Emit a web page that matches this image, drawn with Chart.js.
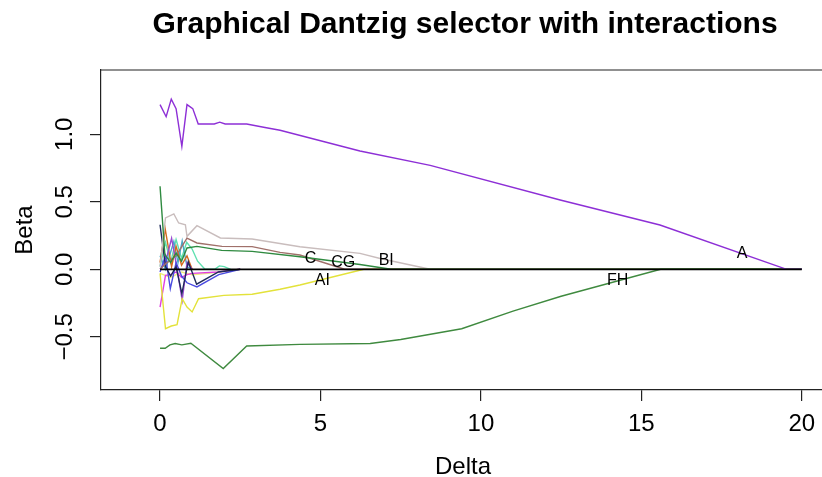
<!DOCTYPE html>
<html>
<head>
<meta charset="utf-8">
<script src="https://cdn.jsdelivr.net/npm/chart.js@4.4.1/dist/chart.umd.min.js"></script>
<style>
  html, body { margin: 0; padding: 0; background: #fff; overflow: hidden; }
  #wrap { width: 822px; height: 477px; }
</style>
</head>
<body>
<div id="wrap"><canvas id="pathChart"></canvas></div>
<script>
// axis ticks
const xTicks = [0, 5, 10, 15, 20];
const yTicks = [-0.5, 0, 0.5, 1.0];
const yTickLabels = ['\u22120.5', '0.0', '0.5', '1.0'];

// coefficient paths (delta, beta)
const deltaA = [0, 0.19, 0.35, 0.5, 0.68, 0.84, 1.02, 1.19, 1.69, 1.86, 2.03, 2.7, 3.27, 3.74, 6.23, 8.42, 12.47, 15.58, 19.53, 20];
const betaA  = [1.22, 1.13, 1.26, 1.19, 0.91, 1.22, 1.19, 1.076, 1.076, 1.09, 1.076, 1.076, 1.05, 1.03, 0.876, 0.77, 0.513, 0.328, 0, 0];

const deltaFH = [0, 0.16, 0.31, 0.47, 0.68, 0.96, 1.97, 2.7, 4.36, 6.55, 7.5, 9.4, 11, 12.5, 15.6, 20];
const betaFH  = [-0.585, -0.585, -0.56, -0.55, -0.56, -0.548, -0.735, -0.568, -0.556, -0.55, -0.52, -0.44, -0.31, -0.2, 0, 0];

const deltaGrey = [0, 0.17, 0.43, 0.58, 0.79, 0.84, 1.15, 1.88, 2.87, 4.36, 6.23, 6.86, 8.42, 20];
const betaGrey  = [0.02, 0.38, 0.41, 0.343, 0.33, 0.244, 0.323, 0.232, 0.224, 0.167, 0.118, 0.08, 0, 0];

const deltaBrown = [0, 0.17, 0.5, 0.84, 1.15, 1.93, 2.87, 3.74, 4.36, 5.75, 20];
const betaBrown  = [0, 0.04, 0.1, 0.23, 0.195, 0.17, 0.168, 0.125, 0.106, 0, 0];

const deltaBI = [0, 0.15, 0.33, 0.5, 0.67, 0.84, 1.15, 1.92, 2.87, 4.36, 6.23, 7.2, 20];
const betaBI  = [0.615, 0.11, 0.05, 0.12, 0.06, 0.158, 0.17, 0.14, 0.133, 0.093, 0.035, 0, 0];

const deltaAI = [0, 0.17, 0.35, 0.53, 0.69, 0.84, 1.0, 1.2, 1.99, 2.87, 3.74, 4.36, 6.35, 20];
const betaAI  = [-0.03, -0.44, -0.42, -0.41, -0.218, -0.28, -0.316, -0.218, -0.193, -0.185, -0.148, -0.116, 0, 0];

const deltaNavy = [0, 0.17, 0.33, 0.5, 0.68, 0.88, 1.14, 1.82, 2.5];
const betaNavy  = [0.33, 0.02, -0.05, 0.02, -0.18, 0.056, -0.11, -0.02, 0];

const deltaBlue = [0, 0.17, 0.32, 0.5, 0.67, 0.84, 1.15, 1.83, 2.5];
const betaBlue  = [-0.02, 0.1, -0.144, 0.05, -0.05, -0.1, -0.131, -0.04, 0];

const deltaMagenta = [0, 0.17, 0.33, 0.5, 0.67, 0.84, 1.0, 1.8, 2.5];
const betaMagenta  = [-0.28, -0.045, -0.04, -0.02, -0.06, -0.04, -0.03, -0.02, 0];

const deltaOrchid = [0, 0.17, 0.36, 0.52, 0.69, 0.84, 1.0];
const betaOrchid  = [0, 0.05, 0.23, 0.02, -0.23, 0.05, 0];

const deltaOrange = [0, 0.16, 0.36, 0.5, 0.67, 0.84, 1.0];
const betaOrange  = [0.05, 0.3, 0.02, 0.17, 0.03, 0.1, 0];

const deltaTeal = [0, 0.17, 0.43, 0.56, 0.69, 0.84, 1.0];
const betaTeal  = [0.1, 0, 0.207, 0.05, 0.21, 0.02, 0];

const deltaAqua = [0, 0.17, 0.33, 0.5, 0.67, 0.83, 1.0, 1.17, 1.4, 1.7, 1.85, 2.0, 2.2];
const betaAqua  = [0.02, 0.2, 0.05, 0.22, 0.08, 0.2, 0.15, 0.06, 0, 0, 0.025, 0.02, 0];

const deltaLemon = [0, 0.33, 0.67, 1.0, 1.5, 2.5];
const betaLemon  = [-0.03, -0.06, -0.02, -0.04, -0.03, 0];

const deltaZero = [0, 20];
const betaZero  = [0, 0];

// text labels on the paths
const pathLabels = ['A', 'FH', 'C', 'CG', 'BI', 'AI'];
const labelDelta = [18.14, 14.26, 4.69, 5.71, 7.05, 5.06];
const labelBeta  = [0.115, -0.087, 0.078, 0.047, 0.065, -0.087];

function pts(xs, ys) {
    return xs.map((x, i) => ({ x: x, y: ys[i] }));
}

function path(xs, ys, color) {
    return {
        data: pts(xs, ys),
        borderColor: color,
        borderWidth: 1.4,
        pointRadius: 0,
        tension: 0,
        order: 1
    };
}

const datasets = [
    Object.assign(path(deltaZero, betaZero, '#000000'), { borderWidth: 1.8, order: 0 }),
    path(deltaA, betaA, '#8d2fd6'),
    path(deltaFH, betaFH, '#3f8a3f'),
    path(deltaBI, betaBI, '#2f8a40'),
    path(deltaBrown, betaBrown, '#a0706a'),
    path(deltaGrey, betaGrey, '#c9bdbd'),
    path(deltaAI, betaAI, '#e3e23a'),
    path(deltaNavy, betaNavy, '#1f2a5a'),
    path(deltaBlue, betaBlue, '#4a4ae0'),
    path(deltaMagenta, betaMagenta, '#e040e0'),
    path(deltaOrchid, betaOrchid, '#9a4ad0'),
    path(deltaOrange, betaOrange, '#d2691e'),
    path(deltaTeal, betaTeal, '#4aa8c8'),
    path(deltaAqua, betaAqua, '#5fe0b0'),
    path(deltaLemon, betaLemon, '#eeee80')
];

const FONT = '"Liberation Sans", Arial, Helvetica, sans-serif';

const rText = {
    id: 'rText',
    afterDraw(chart) {
        const ctx = chart.ctx;
        const area = chart.chartArea;
        const xs = chart.scales.x;
        const ys = chart.scales.y;
        ctx.save();

        // top border of the box
        ctx.strokeStyle = '#222';
        ctx.lineWidth = 1.2;
        ctx.beginPath();
        ctx.moveTo(area.left, area.top);
        ctx.lineTo(area.right, area.top);
        ctx.stroke();

        ctx.fillStyle = '#000';

        // title
        ctx.font = 'bold 30px ' + FONT;
        ctx.textAlign = 'center';
        ctx.textBaseline = 'alphabetic';
        ctx.fillText('Graphical Dantzig selector with interactions', 465, 33);

        // x tick labels
        ctx.font = '24px ' + FONT;
        xTicks.forEach(v => {
            ctx.fillText(String(v), xs.getPixelForValue(v), 431);
        });

        // x axis title
        ctx.fillText('Delta', 463, 474);

        // y tick labels, rotated like R
        yTicks.forEach((v, i) => {
            ctx.save();
            ctx.translate(72, ys.getPixelForValue(v));
            ctx.rotate(-Math.PI / 2);
            ctx.fillText(yTickLabels[i], 0, 0);
            ctx.restore();
        });

        // y axis title
        ctx.save();
        ctx.translate(31.5, (area.top + area.bottom) / 2);
        ctx.rotate(-Math.PI / 2);
        ctx.fillText('Beta', 0, 0);
        ctx.restore();

        // path labels
        ctx.font = '16px ' + FONT;
        ctx.textBaseline = 'middle';
        pathLabels.forEach((t, i) => {
            ctx.fillText(t, xs.getPixelForValue(labelDelta[i]), ys.getPixelForValue(labelBeta[i]));
        });

        ctx.restore();
    }
};

new Chart(document.getElementById('pathChart'), {
    type: 'line',
    data: { datasets: datasets },
    options: {
        responsive: true,
        maintainAspectRatio: false,
        animation: false,
        layout: { padding: { top: 70, left: 0, right: 0, bottom: 0 } },
        plugins: {
            legend: { display: false },
            title: { display: false },
            tooltip: { enabled: false }
        },
        scales: {
            x: {
                type: 'linear',
                min: -1.84,
                max: 20.63,
                afterBuildTicks: s => { s.ticks = xTicks.map(v => ({ value: v })); },
                afterFit: s => { s.height = 87; },
                ticks: { display: false },
                grid: { drawOnChartArea: false, drawTicks: true, tickLength: 11, color: '#222', lineWidth: 1.2 },
                border: { display: true, color: '#222', width: 1.2 }
            },
            y: {
                type: 'linear',
                min: -0.894,
                max: 1.476,
                afterBuildTicks: s => { s.ticks = yTicks.map(v => ({ value: v })); },
                afterFit: s => { s.width = 101; },
                ticks: { display: false },
                grid: { drawOnChartArea: false, drawTicks: true, tickLength: 11, color: '#222', lineWidth: 1.2 },
                border: { display: true, color: '#222', width: 1.2 }
            }
        }
    },
    plugins: [rText]
});
</script>
</body>
</html>
